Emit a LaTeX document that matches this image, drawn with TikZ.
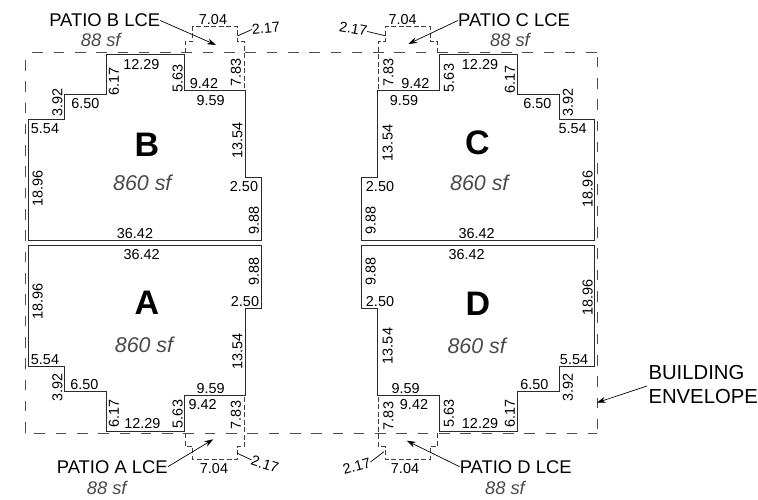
\documentclass[tikz,border=0pt]{standalone}
\usepackage{fontspec}
\setmainfont{Liberation Sans}
\usetikzlibrary{arrows.meta}
\definecolor{areagray}{HTML}{4A4A4A}
\definecolor{wallgray}{HTML}{2A2A2A}
\tikzset{
dimh/.style={inner sep=0pt,font=\fontsize{14.4bp}{16bp}\selectfont},
dimv/.style={dimh,rotate=90},
unitname/.style={inner sep=0pt,font=\fontsize{34bp}{36bp}\selectfont\bfseries},
unitarea/.style={inner sep=0pt,text=areagray,font=\fontsize{21.4bp}{24bp}\selectfont\itshape},
patioarea/.style={inner sep=0pt,text=areagray,font=\fontsize{18.3bp}{20bp}\selectfont\itshape},
patiolabel/.style={inner sep=0pt,font=\fontsize{18.4bp}{20bp}\selectfont},
envlabel/.style={inner sep=0pt,anchor=west,font=\fontsize{20.3bp}{24bp}\selectfont},
wall/.style={draw=wallgray,line width=1bp},
envelope/.style={draw=black!70,line width=1bp,dash pattern=on 10.6bp off 10.7bp},
patioline/.style={draw=black!75,line width=0.7bp,dash pattern=on 5bp off 2.5bp},
leader/.style={draw=black,line width=0.7bp},
pointer/.style={leader,-{Stealth[length=9bp,width=6bp]}}
}
\begin{document}
\begin{tikzpicture}
[x=1bp,y=-1bp]
\useasboundingbox (0,0) rectangle (758,500);

\draw[envelope] (32.3,52.5) -- (597,52.5);
\draw[envelope] (34.3,433.5) -- (597,433.5);
\draw[envelope] (25.5,60) -- (25.5,433.5);
\draw[envelope] (597,56.7) -- (597,433.5);

\draw[wall] (28,241) -- (28,119.5) -- (64,119.5) -- (64,94.5) -- (106,94.5) -- (106,54.5) -- (184,54.5) -- (184,90.5) -- (245,90.5) -- (245,177.5) -- (261,177.5) -- (261,241) -- cycle;
\draw[wall] (594.7,241) -- (594.7,119.5) -- (559.7,119.5) -- (559.7,94.5) -- (517.7,94.5) -- (517.7,54.5) -- (439.3,54.5) -- (439.3,90.5) -- (377.3,90.5) -- (377.3,177.5) -- (361.7,177.5) -- (361.7,241) -- cycle;
\draw[wall] (28,246) -- (28,366.3) -- (64,366.3) -- (64,391.3) -- (106,391.3) -- (106,431.3) -- (184,431.3) -- (184,395.3) -- (245,395.3) -- (245,308.3) -- (261,308.3) -- (261,246) -- cycle;
\draw[wall] (594.7,246) -- (594.7,366.3) -- (559.7,366.3) -- (559.7,391.3) -- (517.7,391.3) -- (517.7,431.3) -- (439.3,431.3) -- (439.3,395.3) -- (377.3,395.3) -- (377.3,308.3) -- (361.7,308.3) -- (361.7,246) -- cycle;

\draw[patioline] (185,53) -- (185,41.5) -- (192.7,41.5) -- (192.7,26.7) -- (237.5,26.7) -- (237.5,41.5) -- (244.5,41.5) -- (244.5,90.5);
\draw[patioline] (437.3,53) -- (437.3,41.5) -- (430,41.5) -- (430,26.7) -- (385,26.7) -- (385,41.5) -- (378.7,41.5) -- (378.7,90.5);
\draw[patioline] (185.3,433) -- (185.3,446.7) -- (192.7,446.7) -- (192.7,459.3) -- (237.3,459.3) -- (237.3,446.7) -- (244.3,446.7) -- (244.3,395.3);
\draw[patioline] (437.3,433) -- (437.3,446.7) -- (430,446.7) -- (430,459.3) -- (385,459.3) -- (385,446.7) -- (378.7,446.7) -- (378.7,395.3);

\node[unitname] (nameb) at (147,145) {B};
\node[unitname] (namec) at (477.3,143) {C};
\node[unitname] (namea) at (147,303.3) {A};
\node[unitname] (named) at (478,304) {D};
\node[unitarea] (areab) at (142.3,183) {860 sf};
\node[unitarea] (areac) at (479.3,183) {860 sf};
\node[unitarea] (areaa) at (144,345) {860 sf};
\node[unitarea] (aread) at (476.7,345.7) {860 sf};

\foreach \x/\y/\t [count=\i] in {141.3/65/12.29,204/84/9.42,210.7/101/9.59,85.3/104/6.50,45/129/5.54,244/187/2.50,135/234/36.42,213/20/7.04,
480/65/12.29,415.3/84/9.42,404/101/9.59,537.3/104/6.50,572.7/129/5.54,380/187/2.50,476.7/234/36.42,402.7/20/7.04,
141.7/255/36.42,245/301.7/2.50,45/360/5.54,210.7/388.7/9.59,84.3/385/6.50,202.7/405/9.42,142.3/424/12.29,214/469/7.04,
466.7/255/36.42,380/301.7/2.50,574/360/5.54,534.3/385/6.50,405.7/388.7/9.59,414/405/9.42,480/424/12.29,405/469/7.04}{
\node[dimh] (dimh\i) at (\x,\y) {\t};
}
\foreach \x/\y/\t [count=\i] in {114/81.7/6.17,177.7/78.3/5.63,236/72.7/7.83,57.3/102.7/3.92,237.3/140.7/13.54,37.7/188.3/18.96,254/220.7/9.88,
510/79.3/6.17,449/78/5.63,388.3/72.7/7.83,568/102.7/3.92,387.7/143/13.54,587.7/189/18.96,370.7/220.7/9.88,
37.7/301.7/18.96,254/271.7/9.88,237.3/351.7/13.54,57.3/387.3/3.92,114/413.3/6.17,177.7/414/5.63,236/415/7.83,
587.7/297.7/18.96,370.7/271.7/9.88,387.7/346/13.54,568/387.3/3.92,449/413.3/5.63,510/413.3/6.17,388.3/416/7.83}{
\node[dimv] (dimv\i) at (\x,\y) {\t};
}

\node[dimh,rotate=5] (sideb) at (266,28.3) {2.17};
\node[dimh,rotate=-10] (sidec) at (353.3,29) {2.17};
\node[dimh,rotate=-18] (sidea) at (265,464.3) {2.17};
\node[dimh,rotate=15] (sided) at (356.7,465.7) {2.17};
\coordinate (tickb) at (237.3,36);
\coordinate (tickc) at (385,35.7);
\coordinate (ticka) at (237.3,453.3);
\coordinate (tickd) at (384,451.7);
\draw[leader] (sideb.west) -- (tickb);
\draw[leader] (sidec.east) -- (tickc);
\draw[leader] (sidea.west) -- (ticka);
\draw[leader] (sided.east) -- (tickd);

\node[patiolabel] (patiob) at (104.7,20.5) {PATIO B LCE};
\node[patiolabel] (patioc) at (514,20.5) {PATIO C LCE};
\node[patiolabel] (patioa) at (112.3,466.7) {PATIO A LCE};
\node[patiolabel] (patiod) at (515.7,466.7) {PATIO D LCE};
\node[patioarea] (sfb) at (100.7,40) {88 sf};
\node[patioarea] (sfc) at (510,40) {88 sf};
\node[patioarea] (sfa) at (106.7,488) {88 sf};
\node[patioarea] (sfd) at (505,487.5) {88 sf};
\coordinate (tipb) at (216,45);
\coordinate (tipc) at (408.3,44);
\coordinate (tipa) at (213.3,439.3);
\coordinate (tipd) at (406.7,440.7);
\draw[pointer] (patiob.east) -- (tipb);
\draw[pointer] (patioc.west) -- (tipc);
\draw[pointer] (patioa.east) -- (tipa);
\draw[pointer] (patiod.west) -- (tipd);

\node[envlabel] (building) at (648.3,373) {BUILDING};
\node[envlabel] (envelopetxt) at (648.3,397) {ENVELOPE};
\coordinate (tailenv) at (647,386);
\coordinate (tipenv) at (596.7,402.7);
\draw[pointer] (tailenv) -- (tipenv);
\end{tikzpicture}
\end{document}
